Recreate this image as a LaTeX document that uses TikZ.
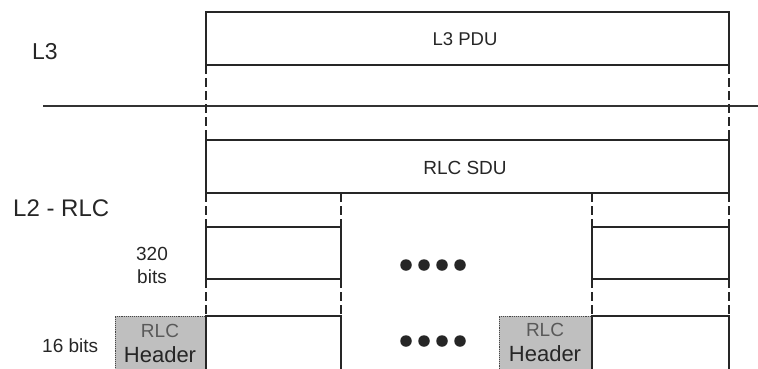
\documentclass[tikz,border=0pt]{standalone}
\usepackage{fontspec}
\setmainfont{Liberation Sans}
\begin{document}
\begin{tikzpicture}[x=1pt,y=-1pt,
  box/.style={draw=black!85, line width=1.4pt, anchor=north west, inner sep=0pt, outer sep=0pt},
  dashln/.style={draw=black!85, line width=2pt, dash pattern=on 9pt off 4pt},
  hdr/.style={fill=gray!50, draw=gray!55!black, densely dotted, line width=0.9pt, anchor=north west, inner sep=0pt, outer sep=0pt},
  lbl/.style={inner sep=0pt, anchor=base},
  dotn/.style={circle, fill=black!85, minimum size=11.5pt, inner sep=0pt}]
\useasboundingbox (0,0) rectangle (758,368);
\clip (0,0) rectangle (758,368);
% L3 PDU
\node[box, minimum width=523pt, minimum height=53pt] (pdu) at (206,12) {};
\node[font=\fontsize{18.5}{22}\selectfont, text=black!85, inner sep=0pt] (pdutxt) at (465,39) {L3 PDU};
% layer separator
\coordinate (hl) at (43,106);
\coordinate (hr) at (758,106);
\draw[line width=1.2pt, black!80] (hl) -- (hr);
% RLC SDU
\node[box, minimum width=523pt, minimum height=53pt] (sdu) at (206,140) {};
\node[font=\fontsize{19}{22}\selectfont, text=black!85, inner sep=0pt] (sdutxt) at (465,168) {RLC SDU};
\draw[dashln] (pdu.south west) -- (sdu.north west);
\draw[dashln] (pdu.south east) -- (sdu.north east);
% segments
\node[box, minimum width=135pt, minimum height=52pt] (seg1) at (206,227) {};
\node[box, minimum width=137pt, minimum height=52pt] (seg2) at (592,227) {};
\draw[dashln] (sdu.south west) -- (seg1.north west);
\draw[dashln] (seg1.north east |- sdu.south) -- (seg1.north east);
\draw[dashln] (seg2.north west |- sdu.south) -- (seg2.north west);
\draw[dashln] (sdu.south east) -- (seg2.north east);
% headers and PDUs
\node[hdr, minimum width=91pt, minimum height=60pt] (hdr1) at (115,316) {};
\node[hdr, minimum width=93pt, minimum height=60pt] (hdr2) at (499,316) {};
\node[box, minimum width=135pt, minimum height=60pt] (bot1) at (206,316) {};
\node[box, minimum width=137pt, minimum height=60pt] (bot2) at (592,316) {};
\draw[dashln] (seg1.south west) -- (bot1.north west);
\draw[dashln] (seg1.south east) -- (bot1.north east);
\draw[dashln] (seg2.south west) -- (bot2.north west);
\draw[dashln] (seg2.south east) -- (bot2.north east);
% header texts
\node[lbl, font=\fontsize{19}{22}\selectfont, text=black!65] (r1) at (160,337) {RLC};
\node[lbl, font=\fontsize{22}{25}\selectfont, text=black!85] (h1) at (160,362) {Header};
\node[lbl, font=\fontsize{19}{22}\selectfont, text=black!65] (r2) at (545,336) {RLC};
\node[lbl, font=\fontsize{22}{25}\selectfont, text=black!85] (h2) at (545,361) {Header};
% dots
\foreach \i/\x in {1/406,2/424,3/442,4/460} {
  \node[dotn] (da\i) at (\x,265) {};
  \node[dotn] (db\i) at (\x,341) {};
}
% labels
\node[lbl, anchor=base west, font=\fontsize{23}{26}\selectfont, text=black!85] (l3) at (32,59) {L3};
\node[lbl, anchor=base west, font=\fontsize{24}{27}\selectfont, text=black!85] (l2) at (13,216) {L2 - RLC};
\node[lbl, font=\fontsize{19}{22}\selectfont, text=black!85] (b320) at (152,260) {320};
\node[lbl, font=\fontsize{19}{22}\selectfont, text=black!85] (bits) at (152,283) {bits};
\node[lbl, anchor=base west, font=\fontsize{19}{22}\selectfont, text=black!85] (b16) at (42,352) {16 bits};
\end{tikzpicture}
\end{document}
